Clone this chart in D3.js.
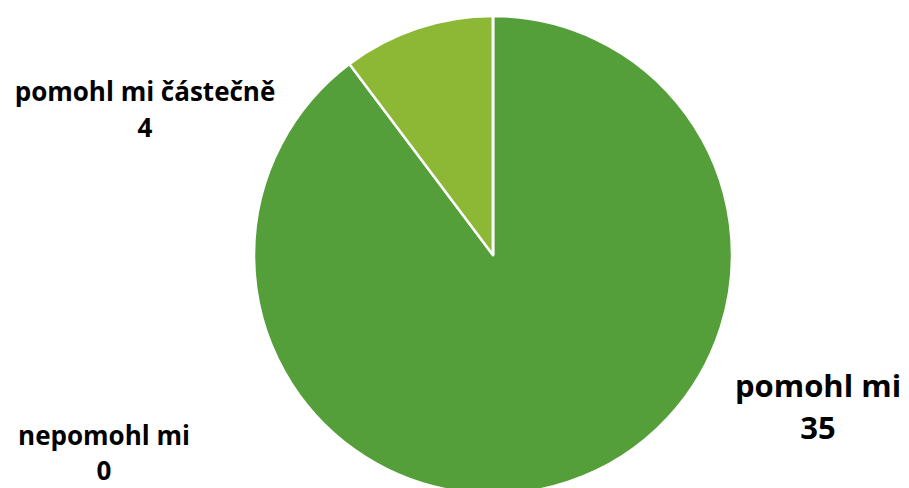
<!DOCTYPE html>
<html>
<head>
<meta charset="utf-8">
<script src="https://cdn.jsdelivr.net/npm/d3@7"></script>
<style>
  body { margin: 0; background: #fff; }
  text { font-family: "Open Sans", sans-serif; font-weight: bold; fill: #000; }
</style>
</head>
<body>
<svg id="drawing_region"></svg>
<script>
var categories = ['pomohl mi', 'pomohl mi částečně', 'nepomohl mi'];
var values = [35, 4, 0];
var colors = ['#559f3a', '#8db836', '#3f7a2b'];

var width = 909;
var height = 488;
var cx = 493, cy = 255, radius = 239;

var svg = d3.select('#drawing_region')
    .attr('width', width)
    .attr('height', height);

var data = categories.map((c, i) => ({label: c, value: values[i], color: colors[i]}));

var pie = d3.pie().sort(null).value(d => d.value);
var arc = d3.arc().innerRadius(0).outerRadius(radius);

var chart = svg.append('g')
    .attr('transform', `translate(${cx}, ${cy})`);

chart.selectAll('path').data(pie(data)).enter()
    .append('path')
    .attr('d', arc)
    .attr('fill', d => d.data.color)
    .attr('stroke', '#fff')
    .attr('stroke-width', 2.5)
    .attr('stroke-linejoin', 'round');

// data labels (name + value), placed like the original
var labelPos = [
  {x: 818, y1: 397, y2: 439, size: 31},
  {x: 145, y1: 101, y2: 137, size: 26},
  {x: 104, y1: 445, y2: 480, size: 26}
];

data.forEach((d, i) => {
  var p = labelPos[i];
  var t = svg.append('text')
      .attr('text-anchor', 'middle')
      .style('font-size', p.size + 'px');
  t.append('tspan').attr('x', p.x).attr('y', p.y1).text(d.label);
  t.append('tspan').attr('x', p.x).attr('y', p.y2).text(d.value);
});
</script>
</body>
</html>
